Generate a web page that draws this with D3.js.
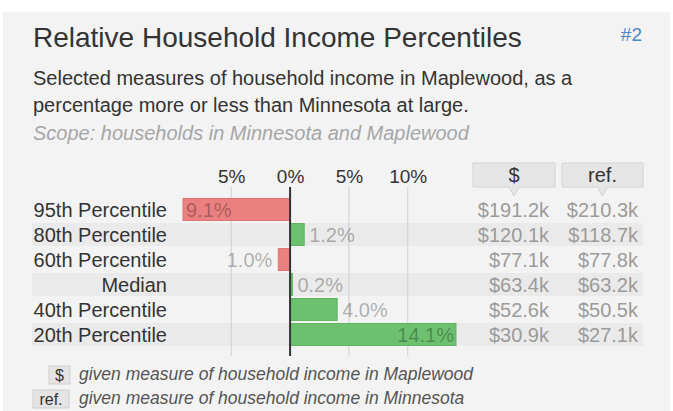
<!DOCTYPE html>
<html>
<head>
<meta charset="utf-8">
<script src="https://cdn.jsdelivr.net/npm/d3@7/dist/d3.min.js"></script>
<style>
  html, body { margin: 0; padding: 0; background: #ffffff; }
  svg { display: block; font-family: "Liberation Sans", Arial, sans-serif; }
</style>
</head>
<body>
<svg id="chart" width="673" height="411"></svg>
<script>
// Income measures, Maplewood vs. Minnesota
const categories = ["95th Percentile", "80th Percentile", "60th Percentile", "Median", "40th Percentile", "20th Percentile"];
const pctDiff = [-9.1, 1.2, -1.0, 0.2, 4.0, 14.1];          // % more/less than Minnesota
const localValues = [191.2, 120.1, 77.1, 63.4, 52.6, 30.9];  // Maplewood, $k
const refValues = [210.3, 118.7, 77.8, 63.2, 50.5, 27.1];    // Minnesota, $k
const tickValues = [-5, 0, 5, 10];
const tickLabels = ["5%", "0%", "5%", "10%"];

const rows = categories.map((c, i) => ({
  name: c, pct: pctDiff[i], local: localValues[i], ref: refValues[i], i
}));

const svg = d3.select("#chart");

// panel
svg.append("rect").attr("x", 3).attr("y", 12).attr("width", 667).attr("height", 420)
  .attr("fill", "#f3f3f3");

// headings
svg.append("text").attr("x", 33).attr("y", 47)
  .attr("font-size", 28).attr("fill", "#333")
  .text("Relative Household Income Percentiles");
svg.append("text").attr("x", 642).attr("y", 41).attr("text-anchor", "end")
  .attr("font-size", 19).attr("fill", "#4a86c6").text("#2");
svg.append("text").attr("x", 33).attr("y", 85).attr("font-size", 20).attr("fill", "#333")
  .text("Selected measures of household income in Maplewood, as a");
svg.append("text").attr("x", 33).attr("y", 112).attr("font-size", 20).attr("fill", "#333")
  .text("percentage more or less than Minnesota at large.");
svg.append("text").attr("x", 33).attr("y", 140).attr("font-size", 20)
  .attr("font-style", "italic").attr("fill", "#a6a6a6")
  .text("Scope: households in Minnesota and Maplewood");

// scales
const x = d3.scaleLinear().domain([d3.min(pctDiff), d3.max(pctDiff)]).range([183, 456]);
const y = d3.scaleBand().domain(categories).range([197, 347]).paddingInner(0.12).paddingOuter(0.06);
const bw = y.bandwidth();

// alternating row stripes
svg.append("g").selectAll("rect")
  .data(rows.filter(d => d.i % 2 === 1))
  .join("rect")
  .attr("x", 32).attr("width", 643 - 32)
  .attr("y", d => y(d.name) - 0.5).attr("height", bw + 1)
  .attr("fill", "#eaeaea");

// grid + tick labels via axis
const axis = d3.axisTop(x).tickValues(tickValues)
  .tickFormat((d, i) => tickLabels[i]).tickSize(0).tickPadding(0);
const axisG = svg.append("g").attr("transform", "translate(0,183)").call(axis);
axisG.select(".domain").remove();
axisG.selectAll("text").attr("font-size", 19).attr("fill", "#333")
  .attr("font-family", "Liberation Sans, Arial, sans-serif").attr("dy", 0);

svg.append("g").selectAll("line")
  .data(tickValues.filter(v => v !== 0))
  .join("line")
  .attr("x1", d => x(d)).attr("x2", d => x(d))
  .attr("y1", 187).attr("y2", 356)
  .attr("stroke", "#cfcfcf").attr("stroke-width", 1);

// bars
svg.append("g").selectAll("rect")
  .data(rows)
  .join("rect")
  .attr("x", d => Math.min(x(0), x(d.pct)))
  .attr("width", d => Math.abs(x(d.pct) - x(0)))
  .attr("y", d => y(d.name)).attr("height", bw)
  .attr("fill", d => d.pct < 0 ? "#ea8080" : "#6cc06e")
  .attr("stroke", d => d.pct < 0 ? "#e07272" : "#5fb562")
  .attr("stroke-width", 1);

// zero line
svg.append("line")
  .attr("x1", x(0)).attr("x2", x(0)).attr("y1", 187).attr("y2", 356)
  .attr("stroke", "#333").attr("stroke-width", 2);

// bar value labels: outside the bar end, or inside when they would leave the range
const [rMin, rMax] = x.range();
const labelG = svg.append("g");
rows.forEach(d => {
  const t = labelG.append("text")
    .attr("font-size", 20).attr("fill", "#000").attr("fill-opacity", 0.3)
    .attr("y", y(d.name) + bw / 2 + 7)
    .text(Math.abs(d.pct).toFixed(1) + "%");
  const w = t.node().getComputedTextLength();
  const end = x(d.pct);
  if (d.pct >= 0) {
    if (end + 5 + w > rMax) t.attr("x", end - 2).attr("text-anchor", "end");
    else t.attr("x", end + 5).attr("text-anchor", "start");
  } else {
    if (end - 6 - w < rMin) t.attr("x", end + 3).attr("text-anchor", "start");
    else t.attr("x", end - 6).attr("text-anchor", "end");
  }
});

// category labels
svg.append("g").selectAll("text")
  .data(rows)
  .join("text")
  .attr("x", 167).attr("y", d => y(d.name) + bw / 2 + 7)
  .attr("text-anchor", "end").attr("font-size", 20).attr("fill", "#333")
  .text(d => d.name);

// value columns
const fmt = v => "$" + v.toFixed(1) + "k";
const columns = [
  { key: "local", head: "$", x0: 473, x1: 555, anchorX: 549 },
  { key: "ref", head: "ref.", x0: 562, x1: 643, anchorX: 638 }
];
columns.forEach(c => {
  const cx = (c.x0 + c.x1) / 2;
  const g = svg.append("g");
  g.append("path")
    .attr("d", `M${c.x0},163 H${c.x1} V187 H${cx + 5} L${cx},196 L${cx - 5},187 H${c.x0} Z`)
    .attr("fill", "#e6e6e6").attr("stroke", "#d2d2d2").attr("stroke-width", 1);
  g.append("text").attr("x", cx).attr("y", 182).attr("text-anchor", "middle")
    .attr("font-size", 20).attr("fill", "#333").text(c.head);
  g.selectAll("text.val")
    .data(rows)
    .join("text").attr("class", "val")
    .attr("x", c.anchorX).attr("y", d => y(d.name) + bw / 2 + 7)
    .attr("text-anchor", "end").attr("font-size", 20).attr("fill", "#9b9b9b")
    .text(d => fmt(d[c.key]));
});

// legend
const legend = [
  { tag: "$", x0: 49, x1: 70, y0: 366, text: "given measure of household income in Maplewood" },
  { tag: "ref.", x0: 33, x1: 69, y0: 390, text: "given measure of household income in Minnesota" }
];
legend.forEach(l => {
  svg.append("rect").attr("x", l.x0).attr("y", l.y0).attr("width", l.x1 - l.x0).attr("height", 18)
    .attr("fill", "#e4e4e4").attr("stroke", "#cfcfcf");
  svg.append("text").attr("x", (l.x0 + l.x1) / 2).attr("y", l.y0 + 15)
    .attr("text-anchor", "middle").attr("font-size", 16).attr("fill", "#333").text(l.tag);
  svg.append("text").attr("x", 79).attr("y", l.y0 + 14)
    .attr("font-size", 17.5).attr("font-style", "italic").attr("fill", "#555").text(l.text);
});
</script>
</body>
</html>
